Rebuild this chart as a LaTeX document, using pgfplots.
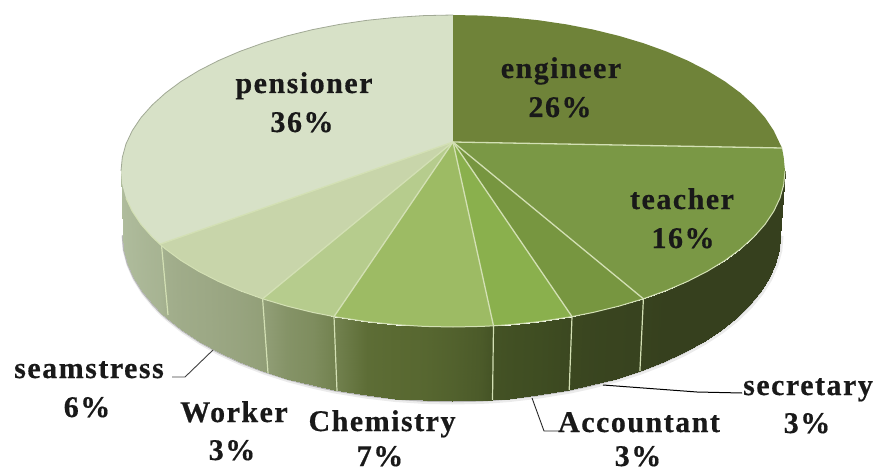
\documentclass[border=0pt]{standalone}
\usepackage{fontspec}
\newfontfamily\labfont{Liberation Serif Bold}[LetterSpace=5,FakeBold=0.5]
\usepackage{pgfplots}
\usepackage{pgfplotstable}
\pgfplotsset{compat=1.18}
\definecolor{cEng}{HTML}{6F8339}
\definecolor{cTea}{HTML}{7A9845}
\definecolor{cSec}{HTML}{779640}
\definecolor{cAcc}{HTML}{8AB04D}
\definecolor{cChe}{HTML}{9DBB64}
\definecolor{cWor}{HTML}{B6CC8D}
\definecolor{cSea}{HTML}{C8D5AA}
\definecolor{cPen}{HTML}{D7E1C7}
\definecolor{cSeam}{HTML}{D3E0B4}
\pgfplotstableread{
x y c
785 171 0
783.7 184.6 0
780 198.1 0
773.7 211.4 0
765 224.4 0
753.9 236.9 0
740.5 249 0
725 260.5 0
707.3 271.3 0
687.8 281.3 0
666.4 290.5 0
643.4 298.8 0.2
619 306.1 0.3
593.3 312.4 0.4
572 316.6 0.6
538.9 321.7 1
510.6 324.6 1.2
493.5 325.8 1.4
482 326.4 1.9
453 327 2.4
424 326.4 2.8
395.4 324.6 3
367.1 321.7 3.2
334 316.6 4.5
312.7 312.4 5.2
287 306.1 5.6
262.6 298.8 6.4
239.6 290.5 6.7
218.2 281.3 6.9
198.7 271.3 7.1
181 260.5 7.3
165.5 249 7.6
159.9 244.2 8
152.1 236.9 8.1
141 224.4 8.3
132.3 211.4 8.5
126 198.1 8.6
122.3 184.6 8.7
121 171 8.8
780 235 0
778.8 249.5 0
775 263.8 0
768.8 278 0
760.2 291.8 0
749.2 305.2 0
736 318 0
720.6 330.2 0
703.1 341.7 0
683.8 352.4 0
662.7 362.2 0
639.9 371 0.2
615.8 378.8 0.3
590.3 385.4 0.4
569.2 390 0.6
536.5 395.3 1
508.5 398.5 1.2
491.5 399.8 1.4
480.1 400.4 1.9
451.5 401 2.4
422.9 400.4 2.8
394.5 398.5 3
366.5 395.3 3.2
333.8 390 4.5
312.7 385.4 5.2
287.2 378.8 5.6
263.1 371 6.4
240.3 362.2 6.7
219.2 352.4 6.9
199.9 341.7 7.1
182.4 330.2 7.3
167 318 7.6
161.4 313 8
153.8 305.2 8.1
142.8 291.8 8.3
134.2 278 8.5
128 263.8 8.6
124.2 249.5 8.7
123 235 8.8
}\wall
\pgfplotstableread{
x y
780 235
778.8 249.5
775 263.8
768.8 278
760.2 291.8
749.2 305.2
736 318
720.6 330.2
703.1 341.7
683.8 352.4
662.7 362.2
639.9 371
615.8 378.8
590.3 385.4
569.2 390
536.5 395.3
508.5 398.5
491.5 399.8
480.1 400.4
451.5 401
422.9 400.4
394.5 398.5
366.5 395.3
333.8 390
312.7 385.4
287.2 378.8
263.1 371
240.3 362.2
219.2 352.4
199.9 341.7
182.4 330.2
167 318
161.4 313
153.8 305.2
142.8 291.8
134.2 278
128 263.8
124.2 249.5
123 235
}\bottomrim
\begin{document}
\begin{tikzpicture}
\useasboundingbox (0,0) rectangle (877pt,473pt);
\begin{axis}[
  at={(0,0)},anchor=south west,
  scale only axis,width=877pt,height=473pt,
  xmin=0,xmax=877,ymin=0,ymax=473,y dir=reverse,
  axis lines=none,clip=false,
  colormap={wall}{rgb255(0)=(54,64,30) rgb255(1)=(63,77,34) rgb255(3)=(90,106,50) rgb255(5)=(123,138,90) rgb255(7)=(156,168,133) rgb255(9)=(178,191,160)},
  point meta min=0,point meta max=9,
  every axis plot/.append style={forget plot},
]
% soft shadow under the disc
\addplot[no marks,draw=black,opacity=0.08,line width=5pt,line join=round,xshift=1pt,yshift=-1pt] table[x=x,y=y] {\bottomrim};
\addplot[no marks,draw=black,opacity=0.22,line width=2.5pt,line join=round] table[x=x,y=y] {\bottomrim};
% wall
\addplot[surf,shader=interp,mesh/rows=2,point meta=explicit]
  table[x=x,y=y,meta=c] {\wall};
% wall seams
\addplot[no marks,draw=cSeam,line width=1.2pt] coordinates {(643.4,298.8) (639.9,371)};
\addplot[no marks,draw=cSeam,line width=1.2pt] coordinates {(572,316.6) (569.2,390)};
\addplot[no marks,draw=cSeam,line width=1.2pt] coordinates {(493.5,325.8) (492.5,399.8)};
\addplot[no marks,draw=cSeam,line width=1.2pt] coordinates {(334,316.6) (337,391)};
\addplot[no marks,draw=cSeam,line width=1.2pt] coordinates {(262.6,298.8) (268,373)};
\addplot[no marks,draw=cSeam,line width=1.2pt] coordinates {(161.5,245) (168,315)};
% top faces
\addplot[fill=cPen,draw=none,no marks] coordinates {(453,142) (159.9,244.2) (152.1,236.9) (141,224.4) (132.3,211.4) (126,198.1) (122.3,184.6) (121,171) (122.3,157.4) (126,143.9) (132.3,130.6) (141,117.6) (152.1,105.1) (165.5,93) (181,81.5) (198.7,70.7) (218.2,60.7) (239.6,51.5) (262.6,43.2) (287,35.9) (312.7,29.6) (339.5,24.4) (367.1,20.3) (395.4,17.4) (424,15.6) (453,15)};
\addplot[fill=cEng,draw=none,no marks] coordinates {(453,142) (453,15) (482,15.6) (510.6,17.4) (538.9,20.3) (566.5,24.4) (593.3,29.6) (619,35.9) (643.4,43.2) (666.4,51.5) (687.8,60.7) (707.3,70.7) (725,81.5) (740.5,93) (753.9,105.1) (765,117.6) (773.7,130.6) (780,143.9) (782,148)};
\addplot[fill=cTea,draw=none,no marks] coordinates {(453,142) (782,148) (783.7,157.4) (785,171) (783.7,184.6) (780,198.1) (773.7,211.4) (765,224.4) (753.9,236.9) (740.5,249) (725,260.5) (707.3,271.3) (687.8,281.3) (666.4,290.5) (643.4,298.8)};
\addplot[fill=cSec,draw=none,no marks] coordinates {(453,142) (643.4,298.8) (619,306.1) (593.3,312.4) (572,316.6)};
\addplot[fill=cAcc,draw=none,no marks] coordinates {(453,142) (572,316.6) (538.9,321.7) (510.6,324.6) (493.5,325.8)};
\addplot[fill=cChe,draw=none,no marks] coordinates {(453,142) (493.5,325.8) (482,326.4) (453,327) (424,326.4) (395.4,324.6) (367.1,321.7) (334,316.6)};
\addplot[fill=cWor,draw=none,no marks] coordinates {(453,142) (334,316.6) (312.7,312.4) (287,306.1) (262.6,298.8)};
\addplot[fill=cSea,draw=none,no marks] coordinates {(453,142) (262.6,298.8) (239.6,290.5) (218.2,281.3) (198.7,271.3) (181,260.5) (165.5,249) (159.9,244.2)};
% back rim of the pale sector
\addplot[no marks,draw=black!25!cPen,line width=0.8pt,line join=round] coordinates {(121,171) (122.3,157.4) (126,143.9) (132.3,130.6) (141,117.6) (152.1,105.1) (165.5,93) (181,81.5) (198.7,70.7) (218.2,60.7) (239.6,51.5) (262.6,43.2) (287,35.9) (312.7,29.6) (339.5,24.4) (367.1,20.3) (395.4,17.4) (424,15.6) (453,15)};
% radial seams
\addplot[no marks,draw=cSeam,line width=1.3pt] coordinates {(453,142) (782,148)};
\addplot[no marks,draw=cSeam,line width=1.3pt] coordinates {(453,142) (643.4,298.8)};
\addplot[no marks,draw=cSeam,line width=1.3pt] coordinates {(453,142) (572,316.6)};
\addplot[no marks,draw=cSeam,line width=1.3pt] coordinates {(453,142) (493.5,325.8)};
\addplot[no marks,draw=cSeam,line width=1.3pt] coordinates {(453,142) (334,316.6)};
\addplot[no marks,draw=cSeam,line width=1.3pt] coordinates {(453,142) (262.6,298.8)};
\addplot[no marks,draw=cSeam,line width=1.3pt] coordinates {(453,142) (159.9,244.2)};
% front rim highlight
\addplot[no marks,draw=cSeam,line width=1pt,line join=round] coordinates {(785,171) (783.7,184.6) (780,198.1) (773.7,211.4) (765,224.4) (753.9,236.9) (740.5,249) (725,260.5) (707.3,271.3) (687.8,281.3) (666.4,290.5) (643.4,298.8) (619,306.1) (593.3,312.4) (572,316.6) (538.9,321.7) (510.6,324.6) (493.5,325.8) (482,326.4) (453,327) (424,326.4) (395.4,324.6) (367.1,321.7) (334,316.6) (312.7,312.4) (287,306.1) (262.6,298.8) (239.6,290.5) (218.2,281.3) (198.7,271.3) (181,260.5) (165.5,249) (159.9,244.2) (152.1,236.9) (141,224.4) (132.3,211.4) (126,198.1)};
% leader lines
\addplot[no marks,draw=black!75,line width=0.9pt] coordinates {(172,377) (185,377) (213,350)};
\addplot[no marks,draw=black!85,line width=0.9pt] coordinates {(532,398) (544,431) (559,431)};
\addplot[no marks,draw=black,line width=1pt] coordinates {(603,385) (697,392) (742,393)};
% labels
\tikzset{lab/.style={anchor=base,inner sep=0pt,font=\labfont\fontsize{30}{30}\selectfont,text=black!90}}
\node[lab] at (axis cs:304,93) {pensioner};
\node[lab] at (axis cs:302,132) {36\%};
\node[lab] at (axis cs:561,78) {engineer};
\node[lab] at (axis cs:560,117) {26\%};
\node[lab] at (axis cs:682,209) {teacher};
\node[lab] at (axis cs:683,248) {16\%};
\node[lab] at (axis cs:89,378) {seamstress};
\node[lab] at (axis cs:87,417) {6\%};
\node[lab] at (axis cs:234,422) {Worker};
\node[lab] at (axis cs:232,460) {3\%};
\node[lab] at (axis cs:382,431) {Chemistry};
\node[lab] at (axis cs:380,466) {7\%};
\node[lab] at (axis cs:639,432) {Accountant};
\node[lab] at (axis cs:638,466) {3\%};
\node[lab] at (axis cs:808,395) {secretary};
\node[lab] at (axis cs:807,433) {3\%};
\end{axis}
\end{tikzpicture}
\end{document}
